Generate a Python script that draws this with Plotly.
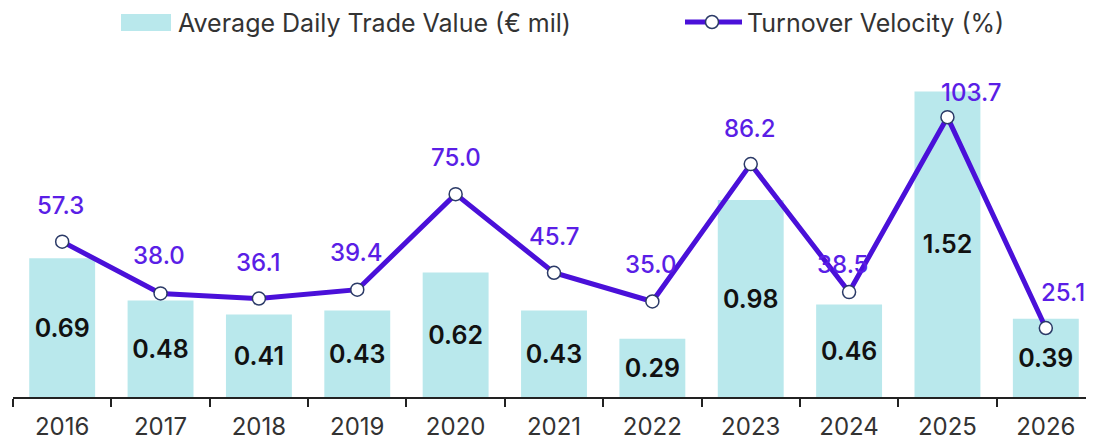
import plotly.graph_objects as go

years = ["2016", "2017", "2018", "2019", "2020", "2021", "2022", "2023", "2024", "2025", "2026"]
adtv = [0.69, 0.48, 0.41, 0.43, 0.62, 0.43, 0.29, 0.98, 0.46, 1.52, 0.39]
velocity = [57.3, 38.0, 36.1, 39.4, 75.0, 45.7, 35.0, 86.2, 38.5, 103.7, 25.1]
adtv_labels = ["0.69", "0.48", "0.41", "0.43", "0.62", "0.43", "0.29", "0.98", "0.46", "1.52", "0.39"]
vel_labels = ["57.3", "38.0", "36.1", "39.4", "75.0", "45.7", "35.0", "86.2", "38.5", "103.7", "25.1"]
bar_name = "Average Daily Trade Value (€ mil)"
line_name = "Turnover Velocity (%)"
# label offsets (pixels) for the velocity labels
vel_xshift = [-2, -2, 0, -1, 0, 0, -2, -1, -7, 24, 17]
vel_yshift = [36, 38, 36, 37, 37, 36, 37, 36, 28, 25, 36]

FONT = "Inter"
BAR_COLOR = "#b9e8ec"
LINE_COLOR = "#4a10d9"
LABEL_COLOR = "#5a1ee6"
TEXT_COLOR = "#333333"

# page has an 8px body margin; plot area in page px: x 13..1095, y 60..397
PW, PH = 1082, 337


def px_x(x):
    return (x - 13) / PW


def px_y(y):
    return (397 - y) / PH


fig = go.Figure()
fig.add_trace(go.Bar(
    x=years, y=adtv, name=bar_name,
    marker=dict(color=BAR_COLOR, line=dict(width=0)),
    text=adtv_labels, textposition="inside", insidetextanchor="middle",
    textangle=0,
    textfont=dict(family=FONT, size=25, color="#111111", weight=600),
    yaxis="y",
))
fig.add_trace(go.Scatter(
    x=years, y=velocity, name=line_name, mode="lines+markers",
    line=dict(color=LINE_COLOR, width=5),
    marker=dict(symbol="circle", size=13, color="white",
                line=dict(color="#2b3a67", width=1.5)),
    yaxis="y2", cliponaxis=False,
))
for i, (v, lab, xs, ys) in enumerate(zip(velocity, vel_labels, vel_xshift, vel_yshift)):
    fig.add_annotation(x=i, y=v, xref="x", yref="y2", text=lab, showarrow=False,
                       xshift=xs, yshift=ys,
                       font=dict(family=FONT, size=24, color=LABEL_COLOR, weight=500))

# manual legend
fig.add_shape(type="rect", xref="paper", yref="paper",
              x0=px_x(121), x1=px_x(171), y0=px_y(31), y1=px_y(14),
              fillcolor=BAR_COLOR, line=dict(width=0))
fig.add_annotation(xref="paper", yref="paper", x=px_x(176), y=px_y(23),
                   xanchor="left", yanchor="middle", text=bar_name, showarrow=False,
                   font=dict(family=FONT, size=25, color=TEXT_COLOR))
fig.add_shape(type="line", xref="paper", yref="paper",
              x0=px_x(685), x1=px_x(742), y0=px_y(22), y1=px_y(22),
              line=dict(color=LINE_COLOR, width=5))
fig.add_shape(type="circle", xref="paper", yref="paper",
              x0=px_x(705.5), x1=px_x(718.5), y0=px_y(28.5), y1=px_y(15.5),
              fillcolor="white", line=dict(color="#2b3a67", width=1.5))
fig.add_annotation(xref="paper", yref="paper", x=px_x(745), y=px_y(23),
                   xanchor="left", yanchor="middle", text=line_name, showarrow=False,
                   font=dict(family=FONT, size=25, color=TEXT_COLOR))

fig.update_layout(
    width=1094, height=440,
    margin=dict(l=5, r=7, t=52, b=51),
    paper_bgcolor="white", plot_bgcolor="white",
    bargap=0.33,
    font=dict(family=FONT, size=24, color=TEXT_COLOR),
    showlegend=False,
    xaxis=dict(type="category", showgrid=False, showline=True, linecolor="#222222",
               linewidth=2, ticks="outside", tickson="boundaries", ticklen=8,
               tickwidth=2, tickcolor="#222222", ticklabelstandoff=7,
               tickfont=dict(family=FONT, size=24, color=TEXT_COLOR),
               range=[-0.5, 10.5]),
    yaxis=dict(range=[0, 1.677], visible=False, showgrid=False),
    yaxis2=dict(range=[-0.6, 125], overlaying="y", visible=False, showgrid=False),
)

fig.write_html("out.html")
